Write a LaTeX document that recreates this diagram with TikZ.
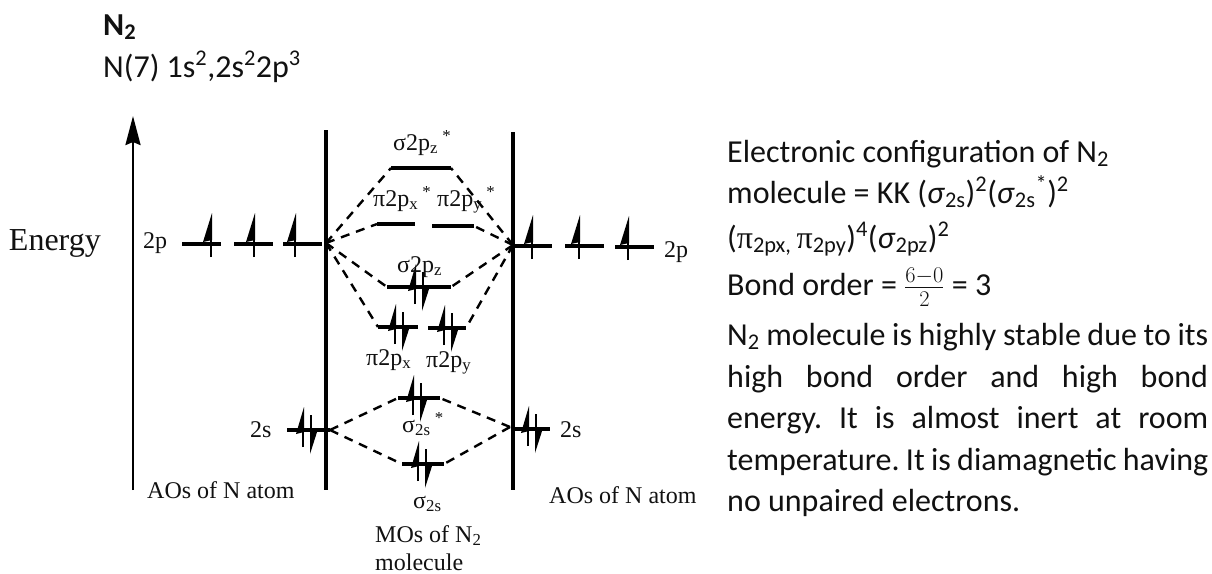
\documentclass[tikz,border=0pt]{standalone}
\usepackage{fix-cm}
\usepackage{fontspec}
\setmainfont{Carlito}
\newfontfamily\timesfont{Liberation Serif}
\usetikzlibrary{arrows.meta}
\definecolor{inkblack}{HTML}{000000}
\definecolor{textprimary}{HTML}{111111}
\tikzset{
  wall/.style={inkblack,line width=3.1pt},
  level/.style={inkblack,line width=3.1pt},
  spinline/.style={inkblack,line width=2.9pt},
  mixline/.style={inkblack,line width=2.4pt,dash pattern=on 9pt off 7pt},
  bodyline/.style={text=textprimary,anchor=base west,inner sep=0pt,font=\fontsize{32}{38}\selectfont},
  mo/.style={text=textprimary,anchor=base west,inner sep=0pt,font=\timesfont\fontsize{24}{28}\selectfont},
}
% single electron at (x,y) of its level, paired electrons
\newcommand{\spinup}[2]{%
  \draw[spinline] (#1,#2+13) -- (#1,#2-20);
  \fill[inkblack] (#1+1,#2-31) -- (#1-8,#2-2) -- (#1+1,#2-4) -- cycle;}
\newcommand{\spinpair}[2]{%
  \draw[spinline] (#1,#2+17) -- (#1,#2-14);
  \fill[inkblack] (#1+1,#2-23) -- (#1-7,#2+4) -- (#1+1,#2+2) -- cycle;
  \draw[spinline] (#1+8,#2-15) -- (#1+8,#2+10);
  \fill[inkblack] (#1+7,#2+24) -- (#1+15,#2-1) -- (#1+7,#2-1) -- cycle;}
\frenchspacing
\begin{document}
\begin{tikzpicture}[x=1pt,y=-1pt]
    \useasboundingbox (0,0) rectangle (1212,573);

    % Heading
    \node[bodyline,font=\fontsize{32}{38}\selectfont\bfseries] (title) at (103,35) {N\textsubscript{2}};
    \node[bodyline] (config) at (103,77) {N(7) 1s\textsuperscript{2},2s\textsuperscript{2}2p\textsuperscript{3}};

    % Energy axis and the two walls
    \coordinate (axisfoot) at (133,490);
    \coordinate (axishead) at (133,116);
    \draw[inkblack,line width=2.6pt,-{Stealth[length=29pt,width=15pt,inset=3pt]}] (axisfoot) -- (axishead);
    \node[text=textprimary,font=\timesfont\fontsize{32}{38}\selectfont,inner sep=0pt,anchor=base east] (energy) at (101,250) {Energy};
    \coordinate (walltopl) at (326,130);
    \coordinate (wallbotl) at (326,490);
    \coordinate (walltopr) at (513,132);
    \coordinate (wallbotr) at (513,490);
    \draw[wall] (walltopl) -- (wallbotl);
    \draw[wall] (walltopr) -- (wallbotr);

    % Atomic levels, left
    \node[mo] (twopl) at (143,248) {2p};
    \draw[level] (182,244) -- (221,244);
    \draw[level] (234,244) -- (273,244);
    \draw[level] (283,244) -- (322,244);
    \spinup{211}{244}
    \spinup{254}{244}
    \spinup{295}{244}
    \node[mo] (twosl) at (250,437) {2s};
    \draw[level] (287,430) -- (330,430);
    \spinpair{303}{430}

    % Atomic levels, right
    \draw[level] (513,246) -- (552,246);
    \draw[level] (565,246) -- (604,246);
    \draw[level] (615,247) -- (654,247);
    \spinup{532}{246}
    \spinup{579}{246}
    \spinup{628}{247}
    \node[mo] (twopr) at (664,257) {2p};
    \draw[level] (513,429) -- (550,429);
    \spinpair{528}{429}
    \node[mo] (twosr) at (560,437) {2s};

    % Molecular levels
    \coordinate (szsl) at (391,168);
    \coordinate (szsr) at (451,168);
    \draw[level] (szsl) -- (szsr);
    \coordinate (pxsl) at (377,224);
    \coordinate (pxsr) at (415,224);
    \draw[level] (pxsl) -- (pxsr);
    \coordinate (pysl) at (432,226);
    \coordinate (pysr) at (474,226);
    \draw[level] (pysl) -- (pysr);
    \coordinate (szl) at (387,287);
    \coordinate (szr) at (451,287);
    \draw[level] (szl) -- (szr);
    \spinpair{415}{287}
    \coordinate (pxl) at (378,327);
    \coordinate (pxr) at (418,327);
    \draw[level] (pxl) -- (pxr);
    \spinpair{395}{327}
    \coordinate (pyl) at (428,328);
    \coordinate (pyr) at (466,328);
    \draw[level] (pyl) -- (pyr);
    \spinpair{444}{328}
    \coordinate (sssl) at (398,398);
    \coordinate (sssr) at (440,398);
    \draw[level] (sssl) -- (sssr);
    \spinpair{413}{398}
    \coordinate (ssl) at (402,464);
    \coordinate (ssr) at (444,464);
    \draw[level] (ssl) -- (ssr);
    \spinpair{418}{464}

    % Mixing lines
    \coordinate (mixpl) at (326,243);
    \coordinate (mixpr) at (513,245);
    \coordinate (mixsl) at (330,430);
    \coordinate (mixsr) at (510,427);
    \draw[mixline] (mixpl) -- (szsl);
    \draw[mixline] (mixpl) -- (pxsl);
    \draw[mixline] (mixpl) -- (szl);
    \draw[mixline] (mixpl) -- (pxl);
    \draw[mixline] (mixpr) -- (szsr);
    \draw[mixline] (mixpr) -- (pysr);
    \draw[mixline] (mixpr) -- (szr);
    \draw[mixline] (mixpr) -- (pyr);
    \draw[mixline] (mixsl) -- (sssl);
    \draw[mixline] (mixsl) -- (ssl);
    \draw[mixline] (mixsr) -- (sssr);
    \draw[mixline] (mixsr) -- (ssr);

    % Level labels
    \node[mo] (labsz) at (393,150) {σ2p\textsubscript{z}\textsuperscript{ *}};
    \node[mo] (labpx) at (373,206) {π2p\textsubscript{x}\textsuperscript{ *}};
    \node[mo] (labpy) at (437,206) {π2p\textsubscript{y}\textsuperscript{ *}};
    \node[mo] (labz) at (397,272) {σ2p\textsubscript{z}};
    \node[mo] (labx) at (366,365) {π2p\textsubscript{x}};
    \node[mo] (laby) at (426,367) {π2p\textsubscript{y}};
    \node[mo] (labsss) at (402,432) {σ\textsubscript{2s}\textsuperscript{ *}};
    \node[mo] (labss) at (413,508) {σ\textsubscript{2s}};
    \node[mo] (labmos) at (375,542) {MOs of N\textsubscript{2}};
    \node[mo] (labmol) at (375,570) {molecule};
    \node[mo] (aosl) at (147,498) {AOs of N atom};
    \node[mo] (aosr) at (549,503) {AOs of N atom};

    % Right hand text
    \node[bodyline] (lineone) at (727,162) {Electronic configuration of N\textsubscript{2}};
    \node[bodyline] (linetwo) at (727,203) {molecule = KK (\textit{σ}\textsubscript{2s})\textsuperscript{2}(\textit{σ}\textsubscript{2s}\textsuperscript{*})\textsuperscript{2}};
    \node[bodyline] (linethree) at (727,248) {({\timesfont π}\textsubscript{2px, }{\timesfont π}\textsubscript{2py})\textsuperscript{4}(\textit{σ}\textsubscript{2pz})\textsuperscript{2}};
    \node[bodyline] (linefour) at (727,295) {Bond order = $\frac{6-0}{2}$ = 3};
    \node[bodyline] (linefive) at (727,345) {\makebox[481pt][s]{N\textsubscript{2} molecule is highly stable due to its}};
    \node[bodyline] (linesix) at (727,387) {\makebox[481pt][s]{high bond order and high bond}};
    \node[bodyline] (lineseven) at (727,428) {\makebox[481pt][s]{energy. It is almost inert at room}};
    \node[bodyline] (lineeight) at (727,470) {\makebox[481pt][s]{temperature. It is diamagnetic having}};
    \node[bodyline] (linenine) at (727,511) {no unpaired electrons.};
\end{tikzpicture}
\end{document}
